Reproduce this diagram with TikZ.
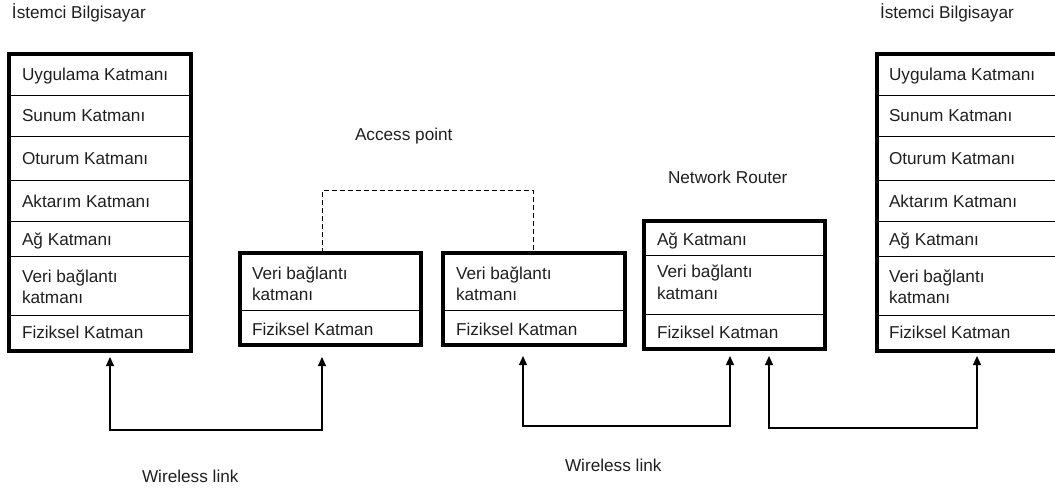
\documentclass[tikz,border=0pt]{standalone}
\usepackage{fontspec}
\setmainfont{Liberation Sans}
\usetikzlibrary{arrows.meta}
\begin{document}
\begin{tikzpicture}[x=1pt,y=-1pt,
  lbl/.style={anchor=base west, inner sep=0pt, outer sep=0pt,
              font=\fontsize{17.2}{21}\selectfont, text=black!88},
  frame/.style={draw, line width=4pt, anchor=north west, inner sep=0pt, outer sep=0pt},
  divider/.style={line width=1pt},
  radio/.style={line width=1.2pt,
                {Triangle[length=9pt,width=8pt]}-{Triangle[length=9pt,width=8pt]}},
  apbond/.style={line width=1pt, dash pattern=on 5pt off 3pt}]
\useasboundingbox (0,0) rectangle (1055,492);

% ---------- client computer (left) ----------
\node[frame, minimum width=181.5pt, minimum height=296pt] (pcL) at (9,54.5) {};
\foreach \y in {96,136.7,180.7,221.7,256.7,315}
  \draw[divider] (pcL.west |- 0,\y) -- (pcL.east |- 0,\y);
\node[lbl] (pcLt) at (12,19) {İstemci Bilgisayar};
\node[lbl] (pcL1) at (22,80.5) {Uygulama Katmanı};
\node[lbl] (pcL2) at (22,122) {Sunum Katmanı};
\node[lbl] (pcL3) at (22,164.5) {Oturum Katmanı};
\node[lbl] (pcL4) at (22,207) {Aktarım Katmanı};
\node[lbl] (pcL5) at (22,245.5) {Ağ Katmanı};
\node[lbl] (pcL6) at (22,282) {Veri bağlantı};
\node[lbl] (pcL6b) at (22,303) {katmanı};
\node[lbl] (pcL7) at (22,338.5) {Fiziksel Katman};

% ---------- access point ----------
\node[frame, minimum width=180.5pt, minimum height=92pt] (apA) at (240,252.5) {};
\draw[divider] (apA.west |- 0,310.7) -- (apA.east |- 0,310.7);
\node[frame, minimum width=182pt, minimum height=92pt] (apB) at (443,252.5) {};
\draw[divider] (apB.west |- 0,310.7) -- (apB.east |- 0,310.7);
\node[lbl] (apt) at (355,141) {Access point};
\node[lbl] (apA1) at (252,279) {Veri bağlantı};
\node[lbl] (apA1b) at (252,300) {katmanı};
\node[lbl] (apA2) at (252,335) {Fiziksel Katman};
\node[lbl] (apB1) at (456,279) {Veri bağlantı};
\node[lbl] (apB1b) at (456,300) {katmanı};
\node[lbl] (apB2) at (456,335) {Fiziksel Katman};
\coordinate (bondA) at (322,252.5);
\coordinate (bondB) at (533,252.5);
\draw[apbond] (bondA) -- ++(0,-62.5) -| (bondB);

% ---------- network router ----------
\node[frame, minimum width=181pt, minimum height=128.5pt] (rt) at (644,220.5) {};
\foreach \y in {255,314.3}
  \draw[divider] (rt.west |- 0,\y) -- (rt.east |- 0,\y);
\node[lbl] (rtt) at (668,183) {Network Router};
\node[lbl] (rt1) at (657,245.5) {Ağ Katmanı};
\node[lbl] (rt2) at (657,277) {Veri bağlantı};
\node[lbl] (rt2b) at (657,299) {katmanı};
\node[lbl] (rt3) at (657,338) {Fiziksel Katman};

% ---------- client computer (right) ----------
\node[frame, minimum width=181.5pt, minimum height=296pt] (pcR) at (877,54.5) {};
\foreach \y in {96,136.7,180.7,221.7,256.7,315}
  \draw[divider] (pcR.west |- 0,\y) -- (pcR.east |- 0,\y);
\node[lbl] (pcRt) at (880,19) {İstemci Bilgisayar};
\node[lbl] (pcR1) at (889,80.5) {Uygulama Katmanı};
\node[lbl] (pcR2) at (889,122) {Sunum Katmanı};
\node[lbl] (pcR3) at (889,164.5) {Oturum Katmanı};
\node[lbl] (pcR4) at (889,207) {Aktarım Katmanı};
\node[lbl] (pcR5) at (889,245.5) {Ağ Katmanı};
\node[lbl] (pcR6) at (889,282) {Veri bağlantı};
\node[lbl] (pcR6b) at (889,303) {katmanı};
\node[lbl] (pcR7) at (889,338.5) {Fiziksel Katman};

% ---------- wireless links ----------
\coordinate (tipL)  at (110,357);
\coordinate (tipA)  at (322,357);
\coordinate (tipB)  at (523,356);
\coordinate (tipR1) at (730,356);
\coordinate (tipR2) at (769,356);
\coordinate (tipR)  at (977,356);
\draw[radio] (tipL)  -- ++(0,73) -| (tipA);
\draw[radio] (tipB)  -- ++(0,70) -| (tipR1);
\draw[radio] (tipR2) -- ++(0,72) -| (tipR);
\node[lbl] (wl1) at (142,482) {Wireless link};
\node[lbl] (wl2) at (565,471.5) {Wireless link};
\end{tikzpicture}
\end{document}
